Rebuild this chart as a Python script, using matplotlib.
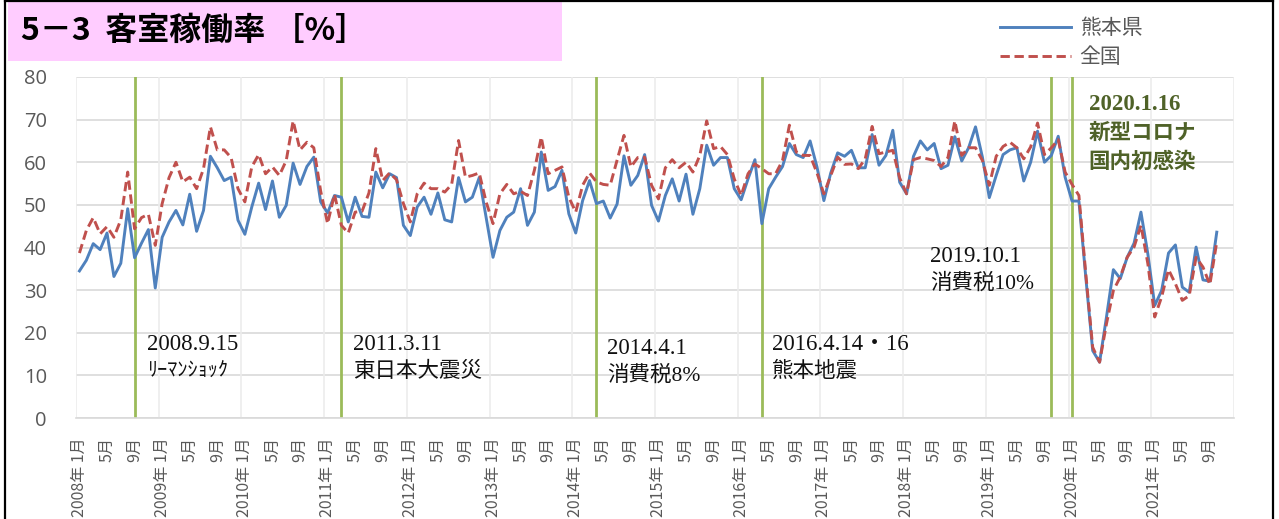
import numpy as np
import matplotlib
matplotlib.use('Agg')
import matplotlib.pyplot as plt
from matplotlib.patches import Rectangle
from matplotlib.lines import Line2D

# ── Data ───────────────────────────────────────────────────────────────────────
START_YEAR = 2008
N_MONTHS   = 168          # axis runs Jan 2008 - Dec 2021

KUMAMOTO = [
    34.5, 37.0, 40.9, 39.5, 43.4, 33.2, 36.3, 49.1, 37.6, 41.0, 44.2, 30.5,   # 2008
    42.4, 46.0, 48.7, 45.3, 52.5, 43.8, 48.7, 61.4, 58.7, 55.7, 56.5, 46.4,   # 2009
    43.1, 49.5, 55.1, 48.9, 55.6, 47.1, 49.9, 59.8, 54.8, 59.0, 61.2, 50.7,   # 2010
    48.1, 52.2, 51.8, 46.0, 51.8, 47.3, 47.1, 57.7, 54.0, 57.3, 56.4, 45.2,   # 2011
    42.8, 49.5, 51.8, 47.8, 52.8, 46.5, 46.0, 56.4, 50.7, 51.8, 56.4, 47.1,   # 2012
    37.7, 44.0, 47.1, 48.3, 53.8, 45.2, 48.3, 62.4, 53.4, 54.3, 58.1, 47.9,   # 2013
    43.4, 51.0, 55.7, 50.3, 50.9, 46.9, 50.2, 61.5, 54.6, 56.9, 61.8, 49.9,   # 2014
    46.2, 52.2, 56.1, 50.9, 57.2, 47.8, 53.8, 64.0, 59.3, 61.1, 61.1, 53.8,   # 2015
    51.2, 56.1, 60.6, 45.6, 53.8, 56.5, 59.0, 64.4, 61.8, 61.1, 65.0, 58.9,   # 2016
    51.0, 57.5, 62.2, 61.4, 62.8, 58.7, 58.7, 66.5, 59.3, 61.6, 67.5, 55.3,   # 2017
    52.6, 61.4, 65.0, 62.9, 64.4, 58.5, 59.3, 66.0, 60.3, 63.4, 68.3, 61.2,   # 2018
    51.7, 56.9, 61.8, 62.9, 63.4, 55.6, 60.0, 67.3, 60.0, 61.6, 66.1, 56.5,   # 2019
    50.9, 50.9, 33.0, 15.8, 13.1, 23.7, 34.8, 32.7, 37.7, 41.0, 48.3, 38.5,   # 2020
    26.4, 29.9, 38.7, 40.6, 30.7, 29.5, 40.1, 32.4, 32.1, 43.6,               # 2021
]

ZENKOKU = [
    38.7, 44.0, 47.0, 43.2, 44.9, 42.4, 46.5, 57.7, 44.4, 47.0, 47.8, 40.5,   # 2008
    50.3, 56.4, 60.0, 55.4, 56.5, 53.8, 58.5, 68.3, 62.9, 62.9, 61.1, 53.8,   # 2009
    50.7, 58.9, 61.8, 57.3, 58.9, 56.9, 60.4, 69.7, 62.9, 64.7, 63.4, 53.2,   # 2010
    45.6, 52.5, 45.2, 43.4, 48.3, 48.5, 52.8, 63.2, 55.7, 57.5, 55.9, 50.3,   # 2011
    46.0, 52.6, 55.1, 53.8, 53.8, 53.0, 54.8, 65.1, 56.5, 56.9, 57.5, 50.7,   # 2012
    45.6, 52.6, 54.8, 52.6, 53.2, 52.2, 58.1, 65.9, 57.3, 58.1, 58.9, 51.8,   # 2013
    48.3, 54.6, 57.5, 55.4, 54.8, 54.6, 60.5, 66.3, 58.9, 61.1, 61.2, 54.6,   # 2014
    51.4, 58.7, 60.6, 58.7, 60.0, 57.7, 61.6, 69.7, 63.2, 63.7, 61.8, 56.1,   # 2015
    52.2, 57.3, 59.6, 58.5, 57.3, 57.3, 60.4, 68.7, 62.4, 61.6, 61.6, 57.5,   # 2016
    52.6, 56.9, 61.2, 59.5, 59.6, 58.5, 60.8, 68.4, 62.0, 62.4, 62.8, 56.3,   # 2017
    52.6, 60.6, 61.1, 60.8, 60.4, 59.0, 61.1, 69.7, 61.6, 63.4, 63.4, 60.4,   # 2018
    54.6, 61.4, 63.7, 64.7, 63.4, 60.8, 63.6, 69.2, 61.8, 63.4, 65.3, 57.7,   # 2019
    54.8, 52.2, 33.8, 16.6, 13.1, 22.1, 29.9, 33.1, 37.7, 40.1, 45.2, 36.2,   # 2020
    23.7, 28.4, 34.8, 31.5, 27.6, 28.7, 37.7, 35.4, 31.3, 41.3,               # 2021
]

SERIES_NAMES = ['熊本県', '全国']

# events: (year, month) of green marker lines
EVENTS = [(2008, 9), (2011, 3), (2014, 4), (2016, 4), (2019, 10), (2020, 1)]

# annotation texts (line 1, line 2, ...)
NOTES = [
    ['2008.9.15', 'ﾘｰﾏﾝｼｮｯｸ'],
    ['2011.3.11', '東日本大震災'],
    ['2014.4.1', '消費税8%'],
    ['2016.4.14・16', '熊本地震'],
    ['2019.10.1', '消費税10%'],
    ['2020.1.16', '新型コロナ', '国内初感染'],
]

TITLE = '5－3  客室稼働率 ［%］'

# ── Style ──────────────────────────────────────────────────────────────────────
BLUE   = '#4F81BD'
RED    = '#C0504D'
GREEN  = '#9BBB59'
OLIVE  = '#4F6228'
GRAY   = '#595959'
W, H   = 1279, 519

CJK   = ['Noto Sans CJK JP', 'DejaVu Sans']
SERIF = ['Liberation Serif', 'Noto Sans CJK JP']
plt.rcParams['font.family'] = CJK


def px(x, y):
    """pixel (from top-left) -> figure fraction"""
    return x / W, 1 - y / H


fig = plt.figure(figsize=(W / 100, H / 100), dpi=100)
l, b = px(76, 418)
r, t = px(1234, 77)
ax = fig.add_axes([l, b, r - l, t - b])

x_k = np.arange(len(KUMAMOTO))
x_z = np.arange(len(ZENKOKU))

# grid
for yv in range(0, 81, 10):
    ax.axhline(yv, color='#d9d9d9', lw=1.2, zorder=0)
for k in range(0, N_MONTHS + 1, 12):
    ax.axvline(k - 0.5, color='#ececec', lw=1.2, zorder=0)

# event lines
for yr, mo in EVENTS:
    ax.axvline((yr - START_YEAR) * 12 + mo - 1, color=GREEN, lw=2.0, zorder=1)

ax.plot(x_k, KUMAMOTO, color=BLUE, lw=2.1, zorder=3)
ax.plot(x_z, ZENKOKU, color=RED, lw=2.1, ls=(0, (3.2, 1.6)), zorder=4)

ax.set_xlim(-0.5, N_MONTHS - 0.5)
ax.set_ylim(0, 80)
ax.set_yticks(range(0, 81, 10))
ax.tick_params(axis='y', length=0, pad=21, labelsize=14.5, labelcolor=GRAY)
for lab in ax.get_yticklabels():
    lab.set_fontfamily(['Open Sans', 'DejaVu Sans'])

xt, xl = [], []
for i in range(0, N_MONTHS, 4):
    yr, mo = START_YEAR + i // 12, i % 12 + 1
    xt.append(i)
    xl.append(f'{yr}年 {mo}月' if mo == 1 else f'{mo}月')
ax.set_xticks(xt)
ax.set_xticklabels(xl, rotation=90, ha='center', va='top', fontsize=11.5, color=GRAY)
ax.tick_params(axis='x', length=0, pad=14)

for s in ['left', 'right', 'top']:
    ax.spines[s].set_visible(False)
ax.spines['bottom'].set_color('#d9d9d9')
ax.spines['bottom'].set_linewidth(1.2)

# annotations (x in months, baseline value for first line, line step)
note_pos = [(9.8, 16.0, 6.0), (39.7, 16.0, 6.4), (76.6, 15.0, 6.3),
            (100.5, 16.0, 6.4), (123.4, 36.6, 6.2), (146.4, 72.3, 6.8)]
for lines, (xp, yp, step) in zip(NOTES, note_pos):
    bold = lines[0].startswith('2020')
    for j, txt in enumerate(lines):
        size = 16.5 if j == 0 else 15.5
        if txt.startswith('ﾘ'):
            size = 14.5
        ax.text(xp, yp - j * step, txt, ha='left', va='baseline',
                family=SERIF, fontsize=size,
                color=OLIVE if bold else '#111111',
                weight='bold' if bold else 'normal', zorder=5)

# title box
x0, y0 = px(8, 61)
x1, y1 = px(562, 2)
fig.patches.append(Rectangle((x0, y0), x1 - x0, y1 - y0, transform=fig.transFigure,
                             facecolor='#FFCCFF', edgecolor='none', zorder=0))
tx, ty = px(21, 31)
fig.text(tx, ty, TITLE, fontsize=23, weight='bold', va='center', ha='left')

# figure frame
for xs, ys in [([5, 5], [0, 600]), ([5, 1273], [1, 1]), ([1273, 1273], [1, 600])]:
    fig.add_artist(Line2D([v / W for v in xs], [1 - v / H for v in ys],
                          transform=fig.transFigure, color='black', lw=1.6))

# legend
handles = [Line2D([], [], color=BLUE, lw=2.1),
           Line2D([], [], color=RED, lw=2.1, ls=(0, (3.2, 1.6)))]
lx, ly = px(990, 7)
fig.legend(handles, SERIES_NAMES, loc='upper left', bbox_to_anchor=(lx, ly),
           frameon=False, fontsize=15, handlelength=3.4, handletextpad=0.4,
           labelspacing=0.32, borderpad=0, labelcolor=GRAY)

fig.savefig('out.png', dpi=100)
